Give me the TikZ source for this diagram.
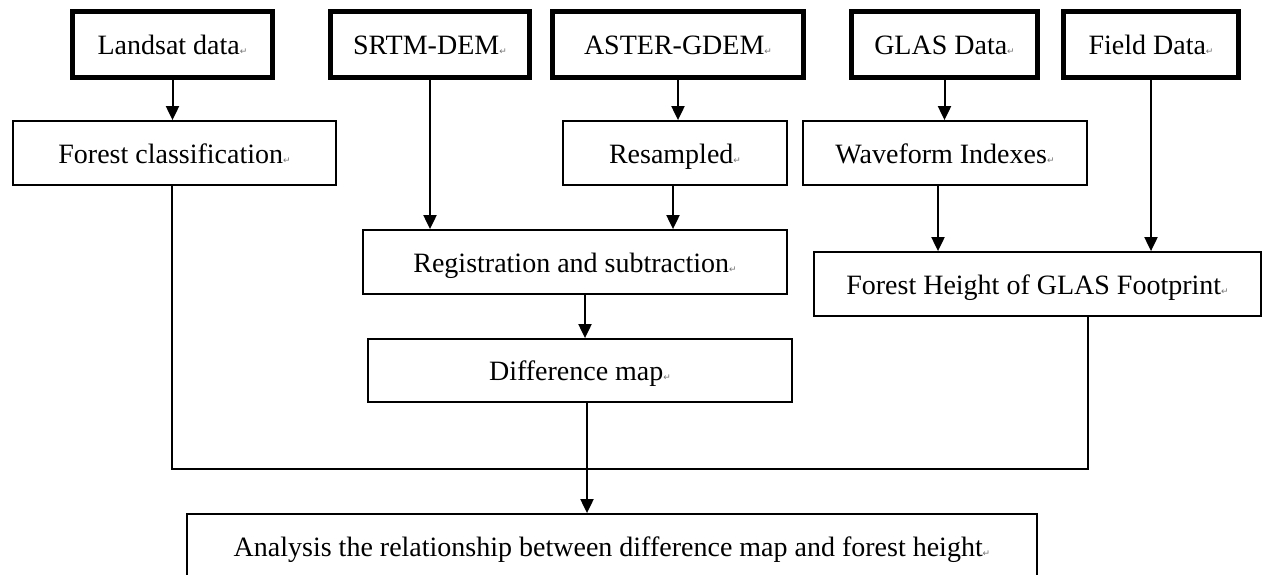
\documentclass[tikz,border=0pt]{standalone}
\usepackage{fontspec}
\setmainfont{Liberation Serif}
\newfontfamily\symfont{DejaVu Sans}
\usetikzlibrary{arrows.meta}

% Word paragraph mark after each label
\newcommand{\pmark}{{\fontsize{9}{9}\selectfont\symfont\textcolor{black!55}{↵}}}

\begin{document}
\begin{tikzpicture}[
  x=1pt, y=-1pt, % pixel-like units, y grows downwards
  every node/.style={text height=20pt, text depth=0pt, font=\fontsize{28}{32}\selectfont}, % same baseline in every box
  databox/.style={rectangle, draw=black, line width=5pt, inner sep=0pt, minimum height=66pt}, % thick input boxes
  procbox/.style={rectangle, draw=black, line width=1.8pt, inner sep=0pt, minimum height=64pt}, % thin process boxes
  arr/.style={draw, line width=2pt, -{Triangle[width=13pt,length=14pt]}}, % arrows
  link/.style={draw, line width=2pt} % plain lines
]
\useasboundingbox (0,0) rectangle (1264,574);

% Input data
\node[databox, minimum width=200pt] (land)  at (172.5,44.5) {Landsat data\pmark};
\node[databox, minimum width=199pt] (srtm)  at (430,44.5)   {SRTM-DEM\pmark};
\node[databox, minimum width=251pt] (aster) at (678,44.5)   {ASTER-GDEM\pmark};
\node[databox, minimum width=186pt] (glas)  at (944.5,44.5) {GLAS Data\pmark};
\node[databox, minimum width=175pt] (field) at (1151,44.5)  {Field Data\pmark};

% Processing steps
\node[procbox, minimum width=323pt] (fclass) at (174.5,153) {Forest classification\pmark};
\node[procbox, minimum width=224pt] (resamp) at (675,153)   {Resampled\pmark};
\node[procbox, minimum width=284pt] (wave)   at (945,153)   {Waveform Indexes\pmark};
\node[procbox, minimum width=424pt] (reg)    at (575,262)   {Registration and subtraction\pmark};
\node[procbox, minimum width=447pt] (fh)     at (1037.5,284) {Forest Height of GLAS Footprint\pmark};
\node[procbox, minimum width=424pt, minimum height=63pt] (diff) at (580,370.5) {Difference map\pmark};

% Final analysis
\node[procbox, minimum width=850pt] (ana) at (612,546) {Analysis the relationship between difference map and forest height\pmark};

% Arrows between boxes
\draw[arr] (land.south) -- (land.south |- fclass.north);
\draw[arr] (srtm.south) -- (srtm.south |- reg.north);
\draw[arr] (aster.south) -- (aster.south |- resamp.north);
\draw[arr] ([xshift=-2pt]resamp.south) -- ([xshift=-2pt]resamp.south |- reg.north);
\draw[arr] (glas.south) -- (glas.south |- wave.north);
\draw[arr] ([xshift=-7pt]wave.south) -- ([xshift=-7pt]wave.south |- fh.north);
\draw[arr] (field.south) -- (field.south |- fh.north);
\draw[arr] ([xshift=10pt]reg.south) -- ([xshift=10pt]reg.south |- diff.north);

% Collecting line to the analysis
\coordinate (busL) at (172,469);
\coordinate (busR) at (1088,469);
\draw[link] (fclass.south -| busL) -- (busL) -- (busR) -- (busR |- fh.south);
\draw[arr] ([xshift=7pt]diff.south) -- ([xshift=7pt]diff.south |- ana.north);

\end{tikzpicture}
\end{document}
